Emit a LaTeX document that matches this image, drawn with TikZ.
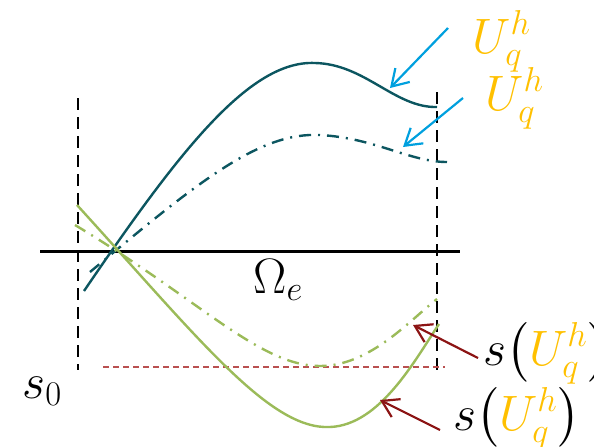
\documentclass[tikz,border=0pt]{standalone}
\usepackage{amsmath}
\usetikzlibrary{arrows.meta}

\definecolor{tealdark}{RGB}{12,86,96}
\definecolor{olivegreen}{RGB}{155,187,89}
\definecolor{arrowblue}{RGB}{0,160,222}
\definecolor{labelgold}{RGB}{255,192,0}
\definecolor{arrowred}{RGB}{140,20,20}
\definecolor{lightred}{RGB}{185,80,80}

\begin{document}
\begin{tikzpicture}[
  x=0.5pt, y=-0.5pt,
  font=\fontsize{24}{28}\selectfont,
  lbl/.style={anchor=base west, inner sep=0pt},
  bound/.style={black, line width=1.25pt, dash pattern=on 6pt off 3.5pt},
  dashdot/.style={dash pattern=on 6pt off 3.5pt on 1pt off 3.5pt},
  curve/.style={line width=1.2pt},
  pointer/.style={line width=1.1pt, -{Straight Barb[length=8pt,width=10pt,line width=1.1pt]}},
]
\useasboundingbox (0,0) rectangle (594,446);

% element boundaries and axis
\draw[bound] (78,98) -- (78,370);
\draw[bound] (437,92) -- (437,370);
\draw[line width=1.5pt] (40,251) -- (460,251);
\draw[lightred, line width=0.6pt, dash pattern=on 3pt off 2pt] (103,367) -- (445,367);

% solution curves
\draw[tealdark, curve] (84,291) .. controls (180,150) and (250,60) .. (315,63)
  .. controls (365,64) and (395,108) .. (437,107);
\draw[tealdark, curve, dashdot] (90,272) .. controls (200,180) and (260,132) .. (320,135)
  .. controls (375,138) and (410,162) .. (447,162);

% shock sensor curves
\draw[olivegreen, curve] (77,205) .. controls (200,340) and (270,430) .. (330,427)
  .. controls (380,425) and (415,360) .. (439,324);
\draw[olivegreen, curve, dashdot] (75,225) .. controls (200,300) and (260,366) .. (320,366)
  .. controls (370,366) and (410,320) .. (437,299);

% labels
\node[lbl] (omega) at (253,293) {$\Omega_e$};
\node[lbl] (s0)    at (22,398)  {$s_0$};
\node[lbl, labelgold] (uq1) at (472,53)  {$U_q^h$};
\node[lbl, labelgold] (uq2) at (485,110) {$U_q^h$};
\node[lbl] (su1) at (483,365) {$s\bigl(\textcolor{labelgold}{U_q^h}\bigr)$};
\node[lbl] (su2) at (453,430) {$s\bigl(\textcolor{labelgold}{U_q^h}\bigr)$};

% pointers
\coordinate (tailA) at (448,28);  \coordinate (tipA) at (390,88);
\coordinate (tailB) at (463,98);  \coordinate (tipB) at (403,147);
\coordinate (tailC) at (478,358); \coordinate (tipC) at (413,325);
\coordinate (tailD) at (440,430); \coordinate (tipD) at (380,400);
\draw[pointer, arrowblue] (tailA) -- (tipA);
\draw[pointer, arrowblue] (tailB) -- (tipB);
\draw[pointer, arrowred] (tailC) -- (tipC);
\draw[pointer, arrowred] (tailD) -- (tipD);

\end{tikzpicture}
\end{document}
